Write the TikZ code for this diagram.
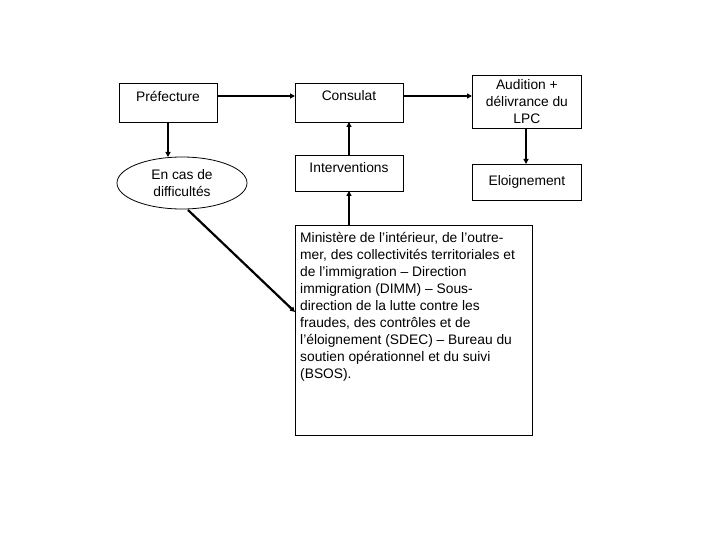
\documentclass[tikz,border=0pt]{standalone}
\usepackage{fontspec}
\setmainfont{Liberation Sans}
\usetikzlibrary{shapes.geometric,arrows.meta}
\begin{document}
\begin{tikzpicture}[x=1pt,y=-1pt,
 txt/.style={font=\fontsize{13.8}{17}\selectfont},
 box/.style={draw,line width=0.8pt,txt,inner sep=0pt},
 ar/.style={line width=2.2pt,-{Triangle[length=5pt,width=5pt]}}]
\useasboundingbox (0,0) rectangle (720,540);
\node[box,minimum width=98,minimum height=39,anchor=north west] (pre) at (119,83) {};
\node at (168,96) [txt] (pret) {Préfecture};
\node[box,minimum width=108,minimum height=39,anchor=north west] (con) at (295,83) {};
\node at (349,96) [txt] (cont) {Consulat};
\node[box,minimum width=109,minimum height=53,anchor=north west,align=center] (aud) at (472,75) {Audition +\\délivrance du\\LPC};
\node[box,ellipse,minimum width=130,minimum height=52,align=center] (ell) at (182,183) {En cas de\\difficultés};
\node[box,minimum width=108,minimum height=36,anchor=north west] (int) at (295,155) {};
\node at (349,168) [txt] (intt) {Interventions};
\node[box,minimum width=109,minimum height=36,anchor=north west] (elo) at (472,164) {Eloignement};
\node[box,minimum width=237,minimum height=210,anchor=north west] (min) at (295,225) {};
\node[anchor=north west,align=left,txt,inner sep=0pt] (mint) at (300,232) {Ministère de l’intérieur, de l’outre-\\mer, des collectivités territoriales et\\de l’immigration – Direction\\immigration (DIMM) – Sous-\\direction de la lutte contre les\\fraudes, des contrôles et de\\l’éloignement (SDEC) – Bureau du\\soutien opérationnel et du suivi\\(BSOS).};
\coordinate (c1) at (349,225);
\coordinate (c2) at (349,191);
\coordinate (c3) at (349,155);
\coordinate (c4) at (349,122);
\coordinate (p1) at (168,122);
\coordinate (p2) at (168,157);
\coordinate (a1) at (526,128);
\coordinate (a2) at (526,164);
\draw[ar] (pre.east|-pret) -- (con.west|-pret);
\draw[ar] (con.east|-pret) -- (aud.west|-pret);
\draw[ar] (p1) -- (p2);
\draw[ar] (c3) -- (c4);
\draw[ar] (c1) -- (c2);
\draw[ar] (a1) -- (a2);
\coordinate (e1) at (188,210);
\coordinate (e2) at (295,312);
\draw[ar] (e1) -- (e2);
\end{tikzpicture}
\end{document}
